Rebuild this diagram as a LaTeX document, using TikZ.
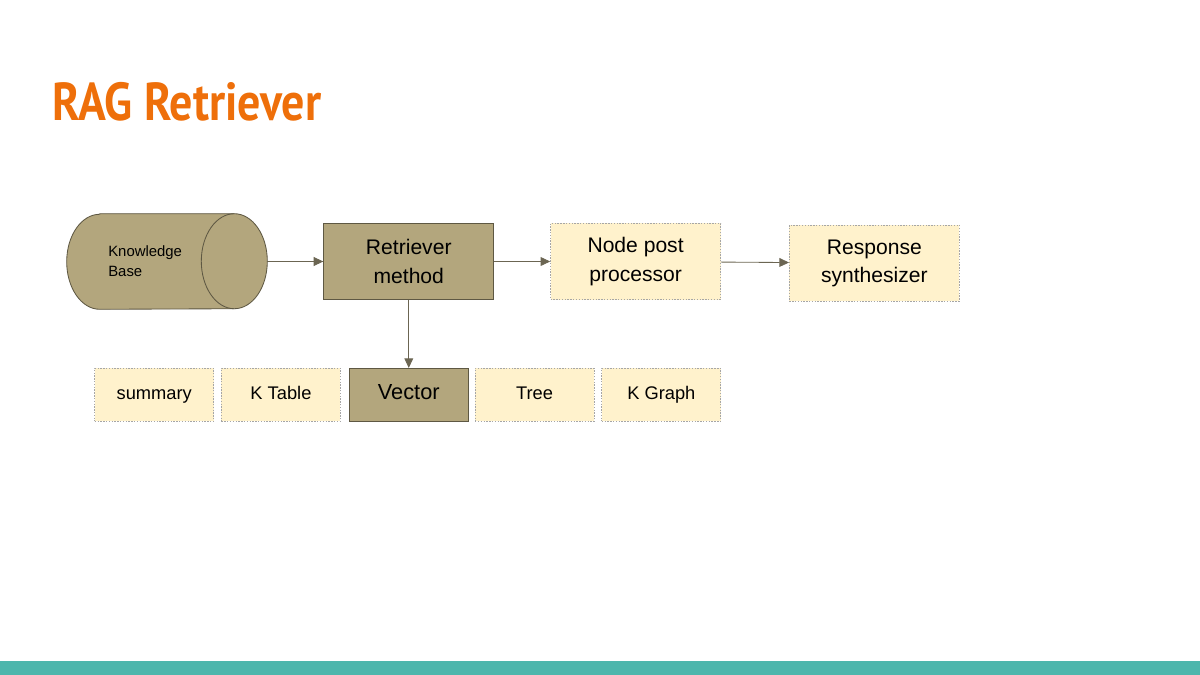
\documentclass[tikz,border=0pt]{standalone}
\usepackage{fontspec}
\setmainfont{Liberation Sans}
\newfontfamily\headfont{PT Sans}[FakeStretch=0.86]
\usetikzlibrary{arrows.meta,positioning}
\definecolor{ragorange}{HTML}{EE6F0A}
\definecolor{khaki}{HTML}{B3A67D}
\definecolor{khakiline}{HTML}{5E5843}
\definecolor{paleyellow}{HTML}{FFF2CC}
\definecolor{flowgrey}{HTML}{6B6552}
\definecolor{barteal}{HTML}{4DB6AC}
\tikzset{
  store/.style={minimum width=5cm, minimum height=2.375cm, inner sep=0pt},
  drum/.style={draw=khakiline, fill=khaki, line width=0.6pt},
  method/.style={draw=khakiline, fill=khaki, line width=0.6pt, minimum width=4.25cm, minimum height=1.9cm, align=center, font=\fontsize{15}{20}\selectfont},
  stage/.style={draw=gray!70, dash pattern=on 1pt off 1pt, fill=paleyellow, line width=0.5pt, minimum width=4.25cm, minimum height=1.9cm, align=center, font=\fontsize{15}{20}\selectfont},
  index/.style={stage, minimum width=2.975cm, minimum height=1.325cm, text height=0.92em, text depth=0.2em, font=\fontsize{13}{16}\selectfont},
  chosen/.style={method, minimum width=2.975cm, minimum height=1.325cm, text height=0.92em, text depth=0.2em, font=\fontsize{15.5}{18}\selectfont},
  flow/.style={-{Triangle[length=2.4mm,width=2.2mm]}, line width=0.6pt, draw=flowgrey}
}

\begin{document}
\begin{tikzpicture}[x=0.025cm, y=0.025cm]
  \useasboundingbox (0,0) rectangle (1200,-675);
  \fill[barteal] (0,-661) rectangle (1200,-675);

  \node[anchor=base west, inner sep=0pt, text=ragorange, font=\headfont\bfseries\fontsize{38}{40}\selectfont] (title) at (52,-121) {RAG Retriever};

  % knowledge base drum
  \node[store] (kb) at (167,-261.5) {};
  \draw[drum] ([xshift=0.825cm]kb.north west) -- ([xshift=-0.825cm]kb.north east)
    arc[start angle=90, end angle=-90, x radius=0.825cm, y radius=1.1875cm]
    -- ([xshift=0.825cm]kb.south west)
    arc[start angle=270, end angle=90, x radius=0.825cm, y radius=1.1875cm] -- cycle;
  \draw[drum, fill=none] ([xshift=-0.825cm]kb.north east)
    arc[start angle=90, end angle=270, x radius=0.825cm, y radius=1.1875cm];
  \node[anchor=west, align=left, inner sep=0pt, font=\fontsize{10.6}{14}\selectfont] (kbtext) at (108,-261) {Knowledge\\Base};

  % top row
  \node[method, right=1.4cm of kb] (rm) {Retriever\\method};
  \node[stage, right=1.4cm of rm] (npp) {Node post\\processor};
  \node[stage, right=1.7cm of npp, yshift=-0.04cm] (rs) {Response\\synthesizer};

  % index types
  \node[chosen, below=1.7cm of rm] (vec) {Vector};
  \node[index, left=0.2cm of vec] (ktab) {K Table};
  \node[index, left=0.175cm of ktab] (summ) {summary};
  \node[index, right=0.15cm of vec] (tree) {Tree};
  \node[index, right=0.175cm of tree] (kgraph) {K Graph};

  \draw[flow] (kb) -- (rm);
  \draw[flow] (rm) -- (npp);
  \draw[flow] (npp) -- (rs);
  \draw[flow] (rm) -- (vec);
\end{tikzpicture}
\end{document}
